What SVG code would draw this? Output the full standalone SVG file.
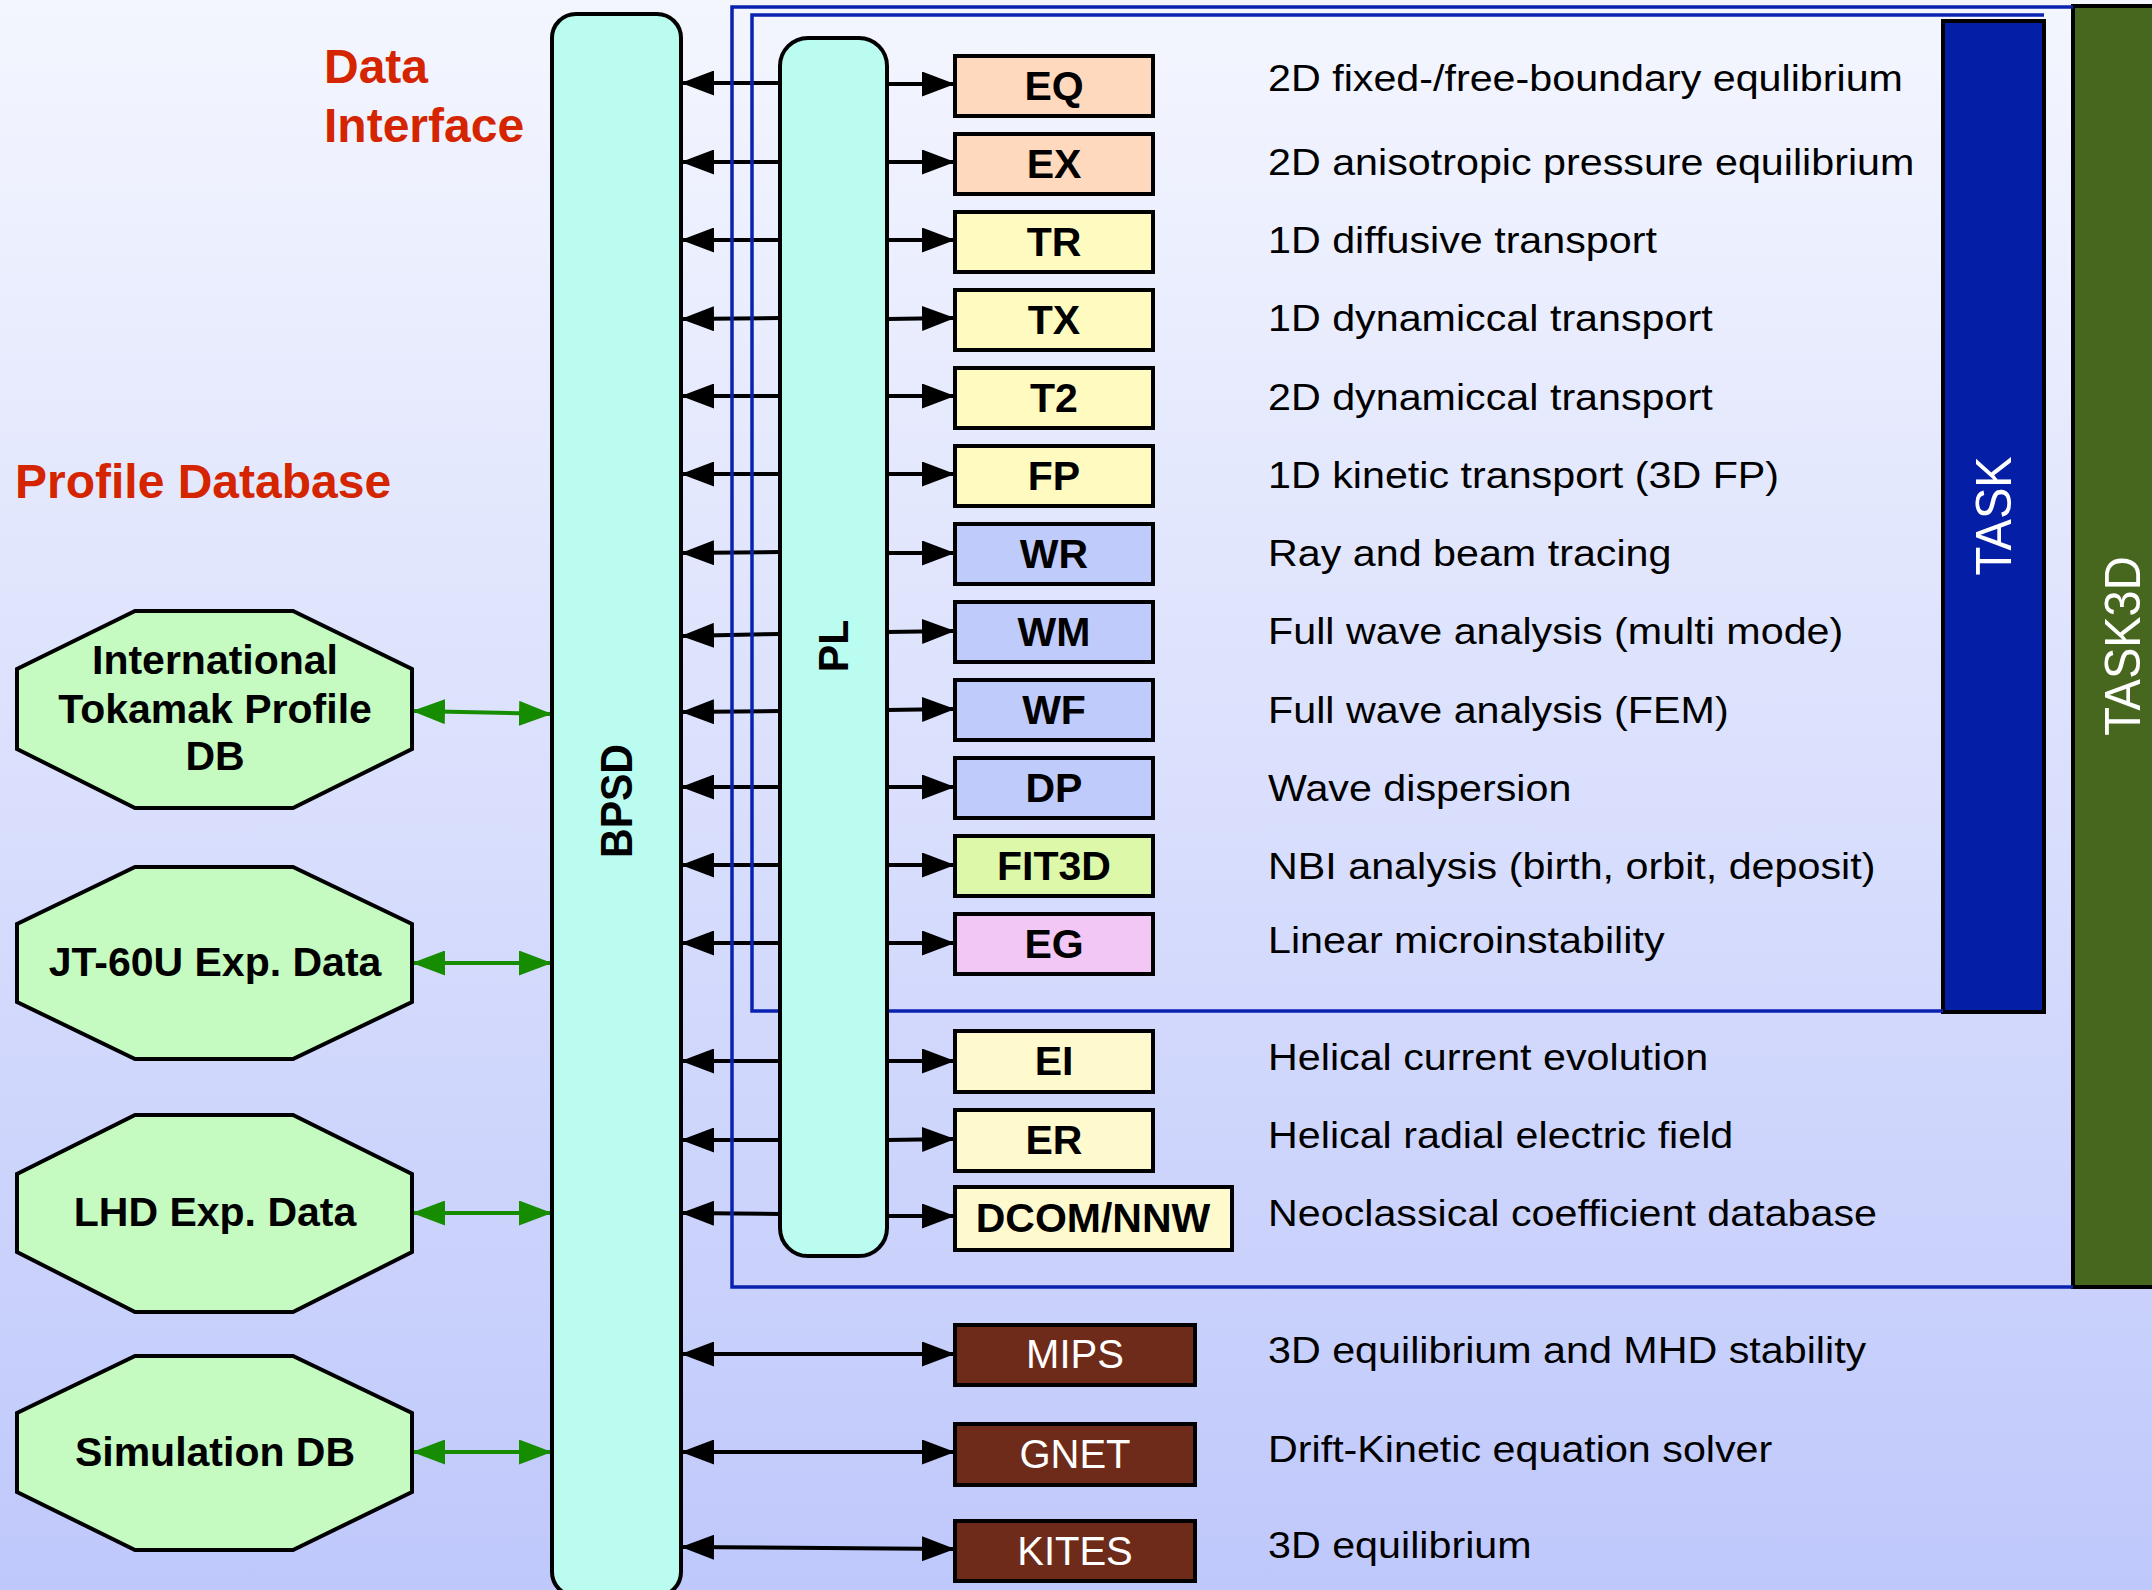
<svg xmlns="http://www.w3.org/2000/svg" width="2152" height="1590" viewBox="0 0 2152 1590">
<defs>
  <linearGradient id="bg" x1="0" y1="0" x2="0" y2="1">
    <stop offset="0" stop-color="#f4f6fe"/>
    <stop offset="1" stop-color="#bfc8fb"/>
  </linearGradient>
  <marker id="ah" viewBox="0 0 33 25" refX="31" refY="12.5" markerWidth="33" markerHeight="25" markerUnits="userSpaceOnUse" orient="auto-start-reverse">
    <path d="M0,0 L33,12.5 L0,25 z" fill="#000"/>
  </marker>
  <marker id="gh" viewBox="0 0 33 25" refX="31" refY="12.5" markerWidth="33" markerHeight="25" markerUnits="userSpaceOnUse" orient="auto-start-reverse">
    <path d="M0,0 L33,12.5 L0,25 z" fill="#168c00"/>
  </marker>
  <style>
    .arr{stroke:#000;stroke-width:4;fill:none;marker-end:url(#ah)}
    .dbl{stroke:#000;stroke-width:4;fill:none;marker-start:url(#ah);marker-end:url(#ah)}
    .grn{stroke:#168c00;stroke-width:4;fill:none;marker-start:url(#gh);marker-end:url(#gh)}
    .box{stroke:#000;stroke-width:4}
    .eq{fill:#ffd9bd}
    .tr{fill:#fffac0}
    .wr{fill:#bfcbfb}
    .fit{fill:#dcf8a8}
    .eg{fill:#f2c6f5}
    .ei{fill:#fffacd}
    .br{fill:#6e2b19}
    .lbl{font-family:"Liberation Sans",Arial,sans-serif;font-weight:bold;font-size:41px;fill:#000;text-anchor:middle}
    .wl{font-family:"Liberation Sans",Arial,sans-serif;font-size:40px;fill:#fff;text-anchor:middle}
    .desc{font-family:"Liberation Sans",Arial,sans-serif;font-size:37px;fill:#000}
    .oct{fill:#c5fac0;stroke:#000;stroke-width:4}
    .ot{font-family:"Liberation Sans",Arial,sans-serif;font-weight:bold;font-size:41px;fill:#000;text-anchor:middle}
    .red{font-family:"Liberation Sans",Arial,sans-serif;font-weight:bold;font-size:48px;fill:#d42500}
    .bus{fill:#bbfcf0;stroke:#000;stroke-width:4}
    .blue{fill:none;stroke:#0a22b0;stroke-width:3.5}
  </style>
</defs>
<rect x="0" y="0" width="2152" height="1590" fill="url(#bg)"/>

<g id="title-data-interface">
  <text class="red" x="324" y="83">Data</text>
  <text class="red" x="324" y="142">Interface</text>
</g>
<g id="title-profile-database">
  <text class="red" x="15" y="498">Profile Database</text>
</g>

<g id="task3d">
  <rect x="2073" y="6" width="90" height="1281" fill="#47661e" stroke="#000" stroke-width="4"/>
  <text transform="translate(2140,646) scale(1.07,1) rotate(-90)" font-family="Liberation Sans, Arial, sans-serif" font-size="47" fill="#fff" text-anchor="middle">TASK3D</text>
</g>
<g id="task">
  <rect x="1943" y="21" width="101" height="991" fill="#041ea6" stroke="#000" stroke-width="4"/>
  <text transform="translate(2011,516) scale(1.07,1) rotate(-90)" font-family="Liberation Sans, Arial, sans-serif" font-size="47" fill="#fff" text-anchor="middle">TASK</text>
</g>

<g id="connectors">
  <line class="grn" x1="414" y1="711" x2="550" y2="714"/>
  <line class="grn" x1="414" y1="963" x2="550" y2="963"/>
  <line class="grn" x1="414" y1="1213" x2="550" y2="1213"/>
  <line class="grn" x1="414" y1="1452" x2="550" y2="1452"/>

  <line class="arr" x1="780" y1="83" x2="683" y2="83"/>
  <line class="arr" x1="780" y1="162" x2="683" y2="162"/>
  <line class="arr" x1="780" y1="240" x2="683" y2="240"/>
  <line class="arr" x1="780" y1="318" x2="683" y2="319"/>
  <line class="arr" x1="780" y1="396" x2="683" y2="396"/>
  <line class="arr" x1="780" y1="474" x2="683" y2="474"/>
  <line class="arr" x1="780" y1="552" x2="683" y2="553"/>
  <line class="arr" x1="780" y1="634" x2="683" y2="636"/>
  <line class="arr" x1="780" y1="711" x2="683" y2="712"/>
  <line class="arr" x1="780" y1="787" x2="683" y2="787"/>
  <line class="arr" x1="780" y1="865" x2="683" y2="865"/>
  <line class="arr" x1="780" y1="943" x2="683" y2="943"/>
  <line class="arr" x1="780" y1="1061" x2="683" y2="1061"/>
  <line class="arr" x1="780" y1="1140" x2="683" y2="1140"/>
  <line class="arr" x1="780" y1="1214" x2="683" y2="1213"/>

  <line class="arr" x1="887" y1="84" x2="953" y2="84"/>
  <line class="arr" x1="887" y1="162" x2="953" y2="162"/>
  <line class="arr" x1="887" y1="240" x2="953" y2="240"/>
  <line class="arr" x1="887" y1="319" x2="953" y2="318"/>
  <line class="arr" x1="887" y1="396" x2="953" y2="396"/>
  <line class="arr" x1="887" y1="474" x2="953" y2="474"/>
  <line class="arr" x1="887" y1="553" x2="953" y2="553"/>
  <line class="arr" x1="887" y1="632" x2="953" y2="631"/>
  <line class="arr" x1="887" y1="710" x2="953" y2="709"/>
  <line class="arr" x1="887" y1="787" x2="953" y2="787"/>
  <line class="arr" x1="887" y1="865" x2="953" y2="865"/>
  <line class="arr" x1="887" y1="943" x2="953" y2="943"/>
  <line class="arr" x1="887" y1="1061" x2="953" y2="1061"/>
  <line class="arr" x1="887" y1="1140" x2="953" y2="1139"/>
  <line class="arr" x1="887" y1="1216" x2="953" y2="1216"/>

  <line class="dbl" x1="683" y1="1354" x2="953" y2="1354"/>
  <line class="dbl" x1="683" y1="1452" x2="953" y2="1452"/>
  <line class="dbl" x1="683" y1="1547" x2="953" y2="1549"/>
</g>

<g id="task3d-boundary">
  <polyline class="blue" points="2073,7 732,7 732,1287 2073,1287"/>
</g>
<g id="task-boundary">
  <polyline class="blue" points="1943,15 752,15 752,1011 1943,1011"/>
  <line class="blue" x1="1943" y1="15" x2="2044" y2="15"/>
</g>

<g id="bpsd">
  <rect class="bus" x="552" y="14" width="129" height="1582" rx="24" ry="24"/>
  <text class="lbl" transform="translate(632,801) scale(1.08,1) rotate(-90)">BPSD</text>
</g>
<g id="pl">
  <rect class="bus" x="780" y="38" width="107" height="1218" rx="28" ry="28"/>
  <text class="lbl" transform="translate(848,646) scale(1.03,1) rotate(-90)">PL</text>
</g>

<g id="node-eq"><rect class="box eq" x="955" y="56" width="198" height="60"/><text class="lbl" x="1054" y="100">EQ</text></g>
<g id="node-ex"><rect class="box eq" x="955" y="134" width="198" height="60"/><text class="lbl" x="1054" y="178">EX</text></g>
<g id="node-tr"><rect class="box tr" x="955" y="212" width="198" height="60"/><text class="lbl" x="1054" y="256">TR</text></g>
<g id="node-tx"><rect class="box tr" x="955" y="290" width="198" height="60"/><text class="lbl" x="1054" y="334">TX</text></g>
<g id="node-t2"><rect class="box tr" x="955" y="368" width="198" height="60"/><text class="lbl" x="1054" y="412">T2</text></g>
<g id="node-fp"><rect class="box tr" x="955" y="446" width="198" height="60"/><text class="lbl" x="1054" y="490">FP</text></g>
<g id="node-wr"><rect class="box wr" x="955" y="524" width="198" height="60"/><text class="lbl" x="1054" y="568">WR</text></g>
<g id="node-wm"><rect class="box wr" x="955" y="602" width="198" height="60"/><text class="lbl" x="1054" y="646">WM</text></g>
<g id="node-wf"><rect class="box wr" x="955" y="680" width="198" height="60"/><text class="lbl" x="1054" y="724">WF</text></g>
<g id="node-dp"><rect class="box wr" x="955" y="758" width="198" height="60"/><text class="lbl" x="1054" y="802">DP</text></g>
<g id="node-fit3d"><rect class="box fit" x="955" y="836" width="198" height="60"/><text class="lbl" x="1054" y="880">FIT3D</text></g>
<g id="node-eg"><rect class="box eg" x="955" y="914" width="198" height="60"/><text class="lbl" x="1054" y="958">EG</text></g>
<g id="node-ei"><rect class="box ei" x="955" y="1031" width="198" height="61"/><text class="lbl" x="1054" y="1075">EI</text></g>
<g id="node-er"><rect class="box ei" x="955" y="1110" width="198" height="61"/><text class="lbl" x="1054" y="1154">ER</text></g>
<g id="node-dcom"><rect class="box ei" x="955" y="1187" width="277" height="63"/><text class="lbl" x="1093" y="1232">DCOM/NNW</text></g>
<g id="node-mips"><rect class="box br" x="955" y="1325" width="240" height="60"/><text class="wl" x="1075" y="1368">MIPS</text></g>
<g id="node-gnet"><rect class="box br" x="955" y="1424" width="240" height="61"/><text class="wl" x="1075" y="1468">GNET</text></g>
<g id="node-kites"><rect class="box br" x="955" y="1521" width="240" height="60"/><text class="wl" x="1075" y="1565">KITES</text></g>

<g id="descriptions" transform="translate(1268,0) scale(1.115,1)">
  <text class="desc" x="0" y="91">2D fixed-/free-boundary equlibrium</text>
  <text class="desc" x="0" y="175">2D anisotropic pressure equilibrium</text>
  <text class="desc" x="0" y="253">1D diffusive transport</text>
  <text class="desc" x="0" y="331">1D dynamiccal transport</text>
  <text class="desc" x="0" y="410">2D dynamiccal transport</text>
  <text class="desc" x="0" y="488">1D kinetic transport (3D FP)</text>
  <text class="desc" x="0" y="566">Ray and beam tracing</text>
  <text class="desc" x="0" y="644">Full wave analysis (multi mode)</text>
  <text class="desc" x="0" y="723">Full wave analysis (FEM)</text>
  <text class="desc" x="0" y="801">Wave dispersion</text>
  <text class="desc" x="0" y="879">NBI analysis (birth, orbit, deposit)</text>
  <text class="desc" x="0" y="953">Linear microinstability</text>
  <text class="desc" x="0" y="1070">Helical current evolution</text>
  <text class="desc" x="0" y="1148">Helical radial electric field</text>
  <text class="desc" x="0" y="1226">Neoclassical coefficient database</text>
  <text class="desc" x="0" y="1363">3D equilibrium and MHD stability</text>
  <text class="desc" x="0" y="1462">Drift-Kinetic equation solver</text>
  <text class="desc" x="0" y="1558">3D equilibrium</text>
</g>

<g id="node-itpdb">
  <polygon class="oct" points="135,611 293,611 412,669 412,749 293,808 135,808 17,749 17,669"/>
  <text class="ot" x="215" y="674">International</text>
  <text class="ot" x="215" y="723">Tokamak Profile</text>
  <text class="ot" x="215" y="770">DB</text>
</g>
<g id="node-jt60u">
  <polygon class="oct" points="135,867 293,867 412,924 412,1002 293,1059 135,1059 17,1002 17,924"/>
  <text class="ot" x="215" y="976">JT-60U Exp. Data</text>
</g>
<g id="node-lhd">
  <polygon class="oct" points="135,1115 293,1115 412,1174 412,1252 293,1312 135,1312 17,1252 17,1174"/>
  <text class="ot" x="215" y="1226">LHD Exp. Data</text>
</g>
<g id="node-simdb">
  <polygon class="oct" points="135,1356 293,1356 412,1413 412,1492 293,1550 135,1550 17,1492 17,1413"/>
  <text class="ot" x="215" y="1466">Simulation DB</text>
</g>
</svg>
